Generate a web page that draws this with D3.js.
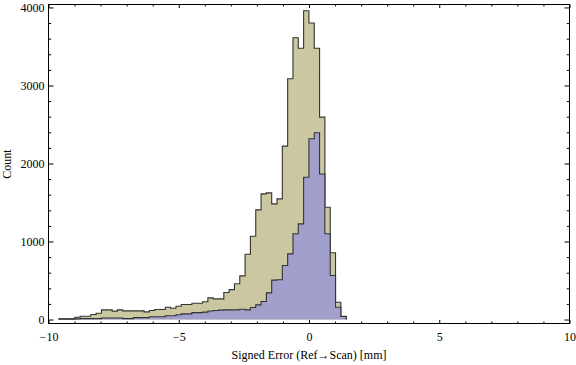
<!DOCTYPE html>
<html>
<head>
<meta charset="utf-8">
<script src="https://cdn.jsdelivr.net/npm/d3@7"></script>
<style>
  html, body { margin: 0; padding: 0; background: #fff; }
  svg { display: block; }
  text { font-family: "Liberation Serif", "Times New Roman", serif; }
</style>
</head>
<body>
<svg id="chart" width="576" height="365"></svg>
<script>
// ---- data ----
const binStart = -9.6;      // mm, left edge of first bin
const binWidth = 0.2042;    // mm
const allCounts = [
  9, 9, 9, 30, 42, 42, 64, 81, 124, 124,
  107, 124, 111, 111, 111, 111, 98, 115, 128, 128,
  158, 145, 171, 192, 192, 209, 209, 227, 278, 265,
  265, 346, 383, 458, 560, 837, 1068, 1406, 1611, 1624,
  1483, 1547, 2222, 3086, 3611, 3478, 3957, 3800, 3478, 2594,
  1440, 855, 222, 42
];
const subsetCounts = [
  5, 5, 5, 8, 12, 12, 12, 12, 20, 20,
  20, 20, 12, 12, 24, 24, 24, 36, 36, 36,
  48, 48, 62, 73, 73, 88, 88, 95, 110, 115,
  120, 124, 124, 124, 132, 124, 154, 188, 231, 342,
  505, 510, 692, 842, 1099, 1226, 1824, 2317, 2394, 1865,
  1099, 564, 158, 38
];
const xMajorTicks = [-10, -5, 0, 5, 10];
const xMinorTicks = d3.range(-10, 10.001, 1).filter(v => v % 5 !== 0);
const yMajorTicks = [0, 1000, 2000, 3000, 4000];
const yMinorTicks = d3.range(0, 4001, 200).filter(v => v % 1000 !== 0);
const xTitle = "Signed Error (Ref\u2192Scan) [mm]";
const yTitle = "Count";

// ---- layout ----
const L = 48.5, R = 569.5, T = 4.5, B = 323.5;
const svg = d3.select("#chart");
const x = d3.scaleLinear().domain([-10, 10]).range([L, R]);
const y = d3.scaleLinear().domain([-51, 4038]).range([B, T]);

function stepPoints(counts) {
  const pts = [{ v: binStart, c: 0 }];
  counts.forEach((c, i) => pts.push({ v: binStart + i * binWidth, c }));
  pts.push({ v: binStart + counts.length * binWidth, c: 0 });
  return pts;
}

const area = d3.area().curve(d3.curveStepAfter)
  .x(d => x(d.v)).y0(y(0)).y1(d => y(d.c));
const line = d3.line().curve(d3.curveStepAfter)
  .x(d => x(d.v)).y(d => y(d.c));

const series = [
  { counts: allCounts, fill: "#CBC7A1" },
  { counts: subsetCounts, fill: "#A19FCC" }
];

const g = svg.append("g");
series.forEach(s => {
  const pts = stepPoints(s.counts);
  g.append("path").attr("d", area(pts)).attr("fill", s.fill).attr("stroke", "none");
  g.append("path").attr("d", line(pts)).attr("fill", "none")
    .attr("stroke", "#333").attr("stroke-width", 1.1);
});

// ---- frame & ticks ----
function addAxis(axisGen, transform) {
  const a = svg.append("g").attr("transform", transform).call(axisGen);
  a.select(".domain").remove();
  a.selectAll("line").attr("stroke", "#000");
  a.selectAll("text").attr("font-size", 12).attr("fill", "#000")
    .attr("font-family", '"Liberation Serif", serif');
  return a;
}
// bottom
addAxis(d3.axisBottom(x).tickValues(xMajorTicks).tickSize(-3.5).tickPadding(8.5), `translate(0,${B})`);
addAxis(d3.axisBottom(x).tickValues(xMinorTicks).tickSize(-2).tickFormat(""), `translate(0,${B})`);
// top
addAxis(d3.axisTop(x).tickValues(xMajorTicks).tickSize(-3.5).tickFormat(""), `translate(0,${T})`);
addAxis(d3.axisTop(x).tickValues(xMinorTicks).tickSize(-2).tickFormat(""), `translate(0,${T})`);
// left
addAxis(d3.axisLeft(y).tickValues(yMajorTicks).tickSize(-5).tickPadding(4).tickFormat(d3.format("d")), `translate(${L},0)`);
addAxis(d3.axisLeft(y).tickValues(yMinorTicks).tickSize(-2.7).tickFormat(""), `translate(${L},0)`);
// right
addAxis(d3.axisRight(y).tickValues(yMajorTicks).tickSize(-5).tickFormat(""), `translate(${R},0)`);
addAxis(d3.axisRight(y).tickValues(yMinorTicks).tickSize(-2.7).tickFormat(""), `translate(${R},0)`);

svg.append("rect").attr("x", L).attr("y", T).attr("width", R - L).attr("height", B - T)
  .attr("fill", "none").attr("stroke", "#000").attr("stroke-width", 1);

// ---- titles ----
svg.append("text").attr("x", (L + R) / 2).attr("y", 359)
  .attr("text-anchor", "middle").attr("font-size", 12).attr("fill", "#000").text(xTitle);
svg.append("text").attr("transform", `translate(11,${(T + B) / 2}) rotate(-90)`)
  .attr("text-anchor", "middle").attr("font-size", 12).attr("fill", "#000").text(yTitle);
</script>
</body>
</html>
